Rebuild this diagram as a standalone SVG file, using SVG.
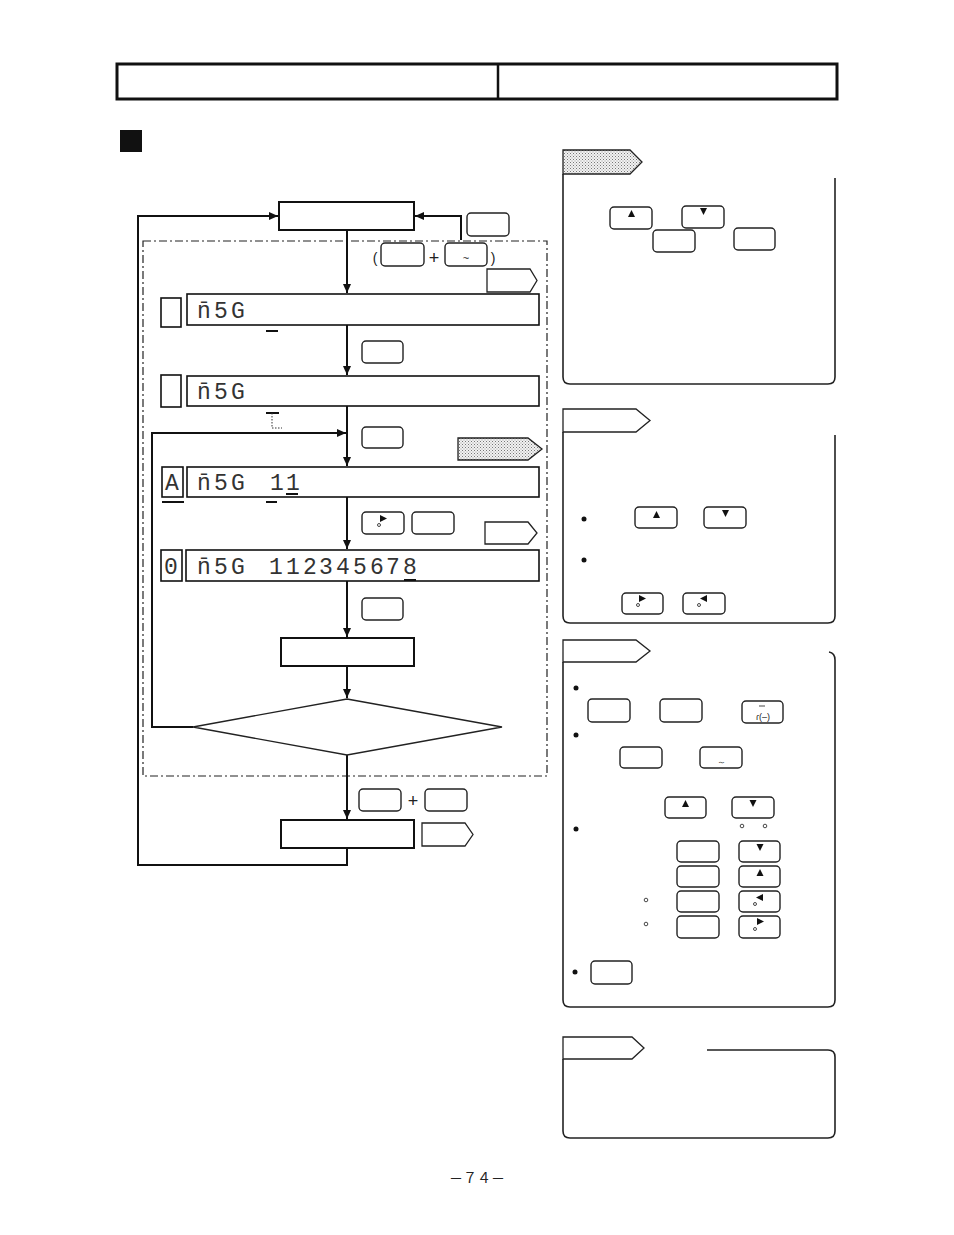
<svg xmlns="http://www.w3.org/2000/svg" width="954" height="1235" viewBox="0 0 954 1235">
<defs>
<style>
.ln{fill:none;stroke:#111;stroke-width:2}
.box{fill:#fff;stroke:#111;stroke-width:2}
.disp{fill:#fff;stroke:#111;stroke-width:1.6}
.btn{fill:#fff;stroke:#222;stroke-width:1.4}
.tag{fill:#fff;stroke:#222;stroke-width:1.3}
.dtag{fill:url(#dots);stroke:#222;stroke-width:1.3}
.panel{fill:none;stroke:#222;stroke-width:1.6}
.seg{font-family:"Liberation Mono",monospace;font-size:23px;fill:#333;text-anchor:middle}
.ico{fill:#111}
.oc{fill:#fff;stroke:#333;stroke-width:0.9}
.bul{fill:#111}
.sym{font-family:"Liberation Sans",sans-serif;fill:#222;text-anchor:middle}
.ul{stroke:#111;stroke-width:2}
</style>
<pattern id="dots" width="3" height="3" patternUnits="userSpaceOnUse">
<rect width="3" height="3" fill="#f2f2f2"/>
<rect x="0" y="0" width="1" height="1" fill="#777"/>
<rect x="1.5" y="1.5" width="1" height="1" fill="#999"/>
</pattern>
<marker id="ah" markerWidth="10" markerHeight="8" refX="9" refY="4" orient="auto" markerUnits="userSpaceOnUse">
<path d="M0,0 L9,4 L0,8 Z" fill="#111"/>
</marker>
</defs>
<rect width="954" height="1235" fill="#fff"/>

<!-- header -->
<g id="header">
<rect x="117" y="64" width="720" height="35" fill="none" stroke="#111" stroke-width="3"/>
<line x1="498" y1="64" x2="498" y2="99" stroke="#111" stroke-width="2.5"/>
<rect x="120" y="130" width="22" height="22" fill="#111"/>
</g>

<!-- dash-dot region -->
<rect x="143" y="241" width="404" height="535" fill="none" stroke="#222" stroke-width="1.2" stroke-dasharray="8,3,2,3"/>

<!-- connectors -->
<g id="connectors">
<polyline class="ln" points="347,848 347,865 138,865 138,216 278,216" marker-end="url(#ah)"/>
<polyline class="ln" points="461,240 461,216 415,216" marker-end="url(#ah)"/>
<line class="ln" x1="347" y1="230" x2="347" y2="293" marker-end="url(#ah)"/>
<line class="ln" x1="347" y1="325" x2="347" y2="375" marker-end="url(#ah)"/>
<line class="ln" x1="347" y1="406" x2="347" y2="466" marker-end="url(#ah)"/>
<line class="ln" x1="347" y1="497" x2="347" y2="549" marker-end="url(#ah)"/>
<line class="ln" x1="347" y1="581" x2="347" y2="637" marker-end="url(#ah)"/>
<line class="ln" x1="347" y1="666" x2="347" y2="698" marker-end="url(#ah)"/>
<line class="ln" x1="347" y1="755" x2="347" y2="819" marker-end="url(#ah)"/>
<polyline class="ln" points="193,727 152,727 152,433 346,433" marker-end="url(#ah)"/>
</g>

<!-- flow nodes -->
<g id="start"><rect class="box" x="279" y="202" width="135" height="28"/></g>
<g id="keys-top">
<rect class="btn" x="467" y="213" width="42" height="23" rx="4"/>
<text class="sym" x="375" y="263" font-size="14">(</text>
<rect class="btn" x="381" y="243" width="43" height="23" rx="4"/>
<text class="sym" x="434" y="264" font-size="18">+</text>
<rect class="btn" x="445" y="243" width="42" height="23" rx="4"/>
<text class="sym" x="466" y="262" font-size="11">~</text>
<text class="sym" x="493" y="263" font-size="14">)</text>
<polygon class="tag" points="487,269 530,269 537,280.5 530,292 487,292"/>
</g>

<g id="disp1">
<rect class="disp" x="161" y="298" width="20" height="29"/>
<rect class="disp" x="187" y="294" width="352" height="31"/>
<text class="seg" x="204" y="318">n̄</text>
<text class="seg" x="221 238" y="318">5G</text>
<line class="ul" x1="266" y1="331" x2="278" y2="331"/>
</g>
<g id="key2"><rect class="btn" x="362" y="341" width="41" height="22" rx="4"/></g>

<g id="disp2">
<rect class="disp" x="161" y="375" width="20" height="32"/>
<rect class="disp" x="187" y="376" width="352" height="30"/>
<text class="seg" x="204" y="399">n̄</text>
<text class="seg" x="221 238" y="399">5G</text>
<line class="ul" x1="266" y1="413" x2="279" y2="413" stroke-width="1.5"/>
<polyline points="272,413 272,428 282,428" fill="none" stroke="#333" stroke-width="1" stroke-dasharray="1.5,1.5"/>
</g>
<g id="key3">
<rect class="btn" x="362" y="427" width="41" height="21" rx="4"/>
<polygon class="dtag" points="458,438 528,438 542,449 528,460 458,460"/>
</g>

<g id="disp3">
<rect class="disp" x="162" y="467" width="21" height="30"/>
<text class="seg" x="172" y="490">A</text>
<rect class="disp" x="187" y="467" width="352" height="30"/>
<text class="seg" x="204" y="490">n̄</text>
<text class="seg" x="221 238 277 293" y="490">5G11</text>
<line class="ul" x1="286" y1="494" x2="298" y2="494"/>
<line class="ul" x1="162" y1="502" x2="184" y2="502" stroke-width="2.5"/>
<line class="ul" x1="266" y1="502" x2="277" y2="502" stroke-width="2.5"/>
</g>
<g id="key4">
<rect class="btn" x="362" y="512" width="42" height="22" rx="4"/>
<polygon class="ico" points="380,515 387,518.5 380,522"/>
<circle class="oc" cx="379" cy="525" r="1.5"/>
<rect class="btn" x="412" y="512" width="42" height="22" rx="4"/>
<polygon class="tag" points="485,522 528,522 537,533 528,544 485,544"/>
</g>

<g id="disp4">
<rect class="disp" x="161" y="550" width="21" height="31"/>
<text class="seg" x="171" y="574">0</text>
<rect class="disp" x="186" y="550" width="353" height="31"/>
<text class="seg" x="204" y="574">n̄</text>
<text class="seg" x="221 238 276 293 310 326 343 360 377 393 410" y="574">5G112345678</text>
<line class="ul" x1="404" y1="580" x2="416" y2="580"/>
</g>
<g id="key5"><rect class="btn" x="362" y="598" width="41" height="22" rx="4"/></g>

<g id="process"><rect class="box" x="281" y="638" width="133" height="28" stroke-width="1.6"/></g>
<g id="decision"><polygon points="347,699 502,727 347,755 193,727" fill="#fff" stroke="#222" stroke-width="1.4"/></g>

<g id="keys-end">
<rect class="btn" x="359" y="789" width="42" height="22" rx="4"/>
<text class="sym" x="413" y="807" font-size="18">+</text>
<rect class="btn" x="425" y="789" width="42" height="22" rx="4"/>
</g>
<g id="end">
<rect class="box" x="281" y="820" width="133" height="28" stroke-width="1.6"/>
<polygon class="tag" points="422,823 465,823 473,834.5 465,846 422,846"/>
</g>

<!-- panel 1 -->
<g id="panel1">
<polygon class="dtag" points="563,150 630,150 642,162 630,174 563,174"/>
<path class="panel" d="M563,174 V377 Q563,384 570,384 H828 Q835,384 835,377 V178"/>
<rect class="btn" x="610" y="207" width="42" height="22" rx="4"/>
<polygon class="ico" points="628,217 635,217 631.5,210"/>
<rect class="btn" x="682" y="206" width="42" height="22" rx="4"/>
<polygon class="ico" points="700,208 707,208 703.5,215"/>
<rect class="btn" x="653" y="230" width="42" height="22" rx="4"/>
<rect class="btn" x="734" y="228" width="41" height="22" rx="4"/>
</g>

<!-- panel 2 -->
<g id="panel2">
<polygon class="tag" points="563,409 636,409 650,420.5 636,432 563,432"/>
<path class="panel" d="M563,432 V616 Q563,623 570,623 H828 Q835,623 835,616 V435"/>
<circle class="bul" cx="584" cy="519" r="2.5"/>
<circle class="bul" cx="584" cy="560" r="2.5"/>
<rect class="btn" x="635" y="507" width="42" height="21" rx="4"/>
<polygon class="ico" points="653,518 660,518 656.5,511"/>
<rect class="btn" x="704" y="507" width="42" height="21" rx="4"/>
<polygon class="ico" points="722,510 729,510 725.5,517"/>
<rect class="btn" x="622" y="593" width="41" height="21" rx="4"/>
<polygon class="ico" points="639,595 646,598.5 639,602"/>
<circle class="oc" cx="638" cy="605" r="1.5"/>
<rect class="btn" x="683" y="593" width="42" height="21" rx="4"/>
<polygon class="ico" points="707,595 700,598.5 707,602"/>
<circle class="oc" cx="699" cy="605" r="1.5"/>
</g>

<!-- panel 3 -->
<g id="panel3">
<polygon class="tag" points="563,640 636,640 650,651 636,662 563,662"/>
<path class="panel" d="M563,662 V1000 Q563,1007 570,1007 H828 Q835,1007 835,1000 V660 Q835,653 829,652"/>
<circle class="bul" cx="576" cy="688" r="2.5"/>
<circle class="bul" cx="576" cy="735" r="2.5"/>
<circle class="bul" cx="576" cy="829" r="2.5"/>
<circle class="bul" cx="575" cy="972" r="2.5"/>
<rect class="btn" x="588" y="699" width="42" height="23" rx="4"/>
<rect class="btn" x="660" y="699" width="42" height="23" rx="4"/>
<rect class="btn" x="742" y="701" width="41" height="22" rx="4"/>
<line x1="759" y1="706" x2="765" y2="706" stroke="#333" stroke-width="0.9"/>
<text class="sym" x="763" y="720" font-size="9">ɾ(–)</text>
<rect class="btn" x="620" y="747" width="42" height="21" rx="4"/>
<rect class="btn" x="700" y="747" width="42" height="21" rx="4"/>
<text class="sym" x="721" y="765" font-size="9">～</text>
<rect class="btn" x="665" y="797" width="41" height="21" rx="4"/>
<polygon class="ico" points="682,807 689,807 685.5,800"/>
<rect class="btn" x="732" y="797" width="42" height="21" rx="4"/>
<polygon class="ico" points="749.5,800 756.5,800 753,807"/>
<circle class="oc" cx="742" cy="826" r="1.8"/>
<circle class="oc" cx="765" cy="826" r="1.8"/>
<circle class="oc" cx="646" cy="900" r="1.8"/>
<circle class="oc" cx="646" cy="924" r="1.8"/>
<rect class="btn" x="677" y="841" width="42" height="21" rx="4"/>
<rect class="btn" x="677" y="866" width="42" height="21" rx="4"/>
<rect class="btn" x="677" y="891" width="42" height="21" rx="4"/>
<rect class="btn" x="677" y="916" width="42" height="22" rx="4"/>
<rect class="btn" x="739" y="841" width="41" height="21" rx="4"/>
<polygon class="ico" points="756.5,844 763.5,844 760,851"/>
<rect class="btn" x="739" y="866" width="41" height="21" rx="4"/>
<polygon class="ico" points="756.5,876 763.5,876 760,869"/>
<rect class="btn" x="739" y="891" width="41" height="21" rx="4"/>
<polygon class="ico" points="763,894 756,897.5 763,901"/>
<circle class="oc" cx="755" cy="904" r="1.5"/>
<rect class="btn" x="739" y="916" width="41" height="22" rx="4"/>
<polygon class="ico" points="757,918 764,921.5 757,925"/>
<circle class="oc" cx="755" cy="929" r="1.5"/>
<rect class="btn" x="591" y="961" width="41" height="23" rx="4"/>
</g>

<!-- panel 4 -->
<g id="panel4">
<polygon class="tag" points="563,1037 632,1037 644,1048 632,1059 563,1059"/>
<path class="panel" d="M563,1059 V1131 Q563,1138 570,1138 H828 Q835,1138 835,1131 V1057 Q835,1050 828,1050 H707"/>
</g>

<text x="477" y="1183" font-family="Noto Sans CJK JP, sans-serif" font-size="14" fill="#222" text-anchor="middle">－７４－</text>
</svg>
